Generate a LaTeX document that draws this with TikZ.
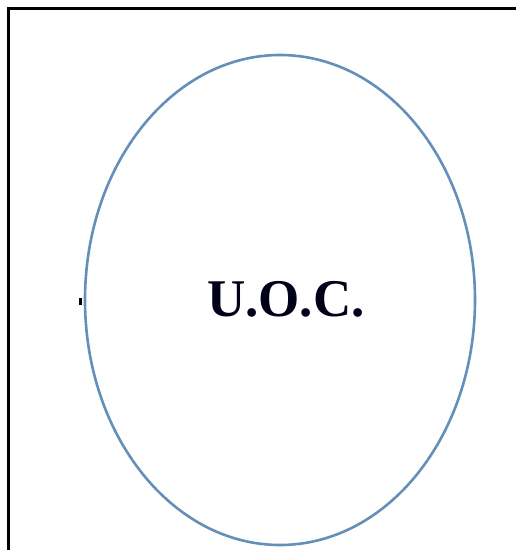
\documentclass[tikz,border=0pt]{standalone}
\usepackage{fontspec}
\setmainfont{Liberation Serif}
\definecolor{ellblue}{RGB}{100,143,185}
\begin{document}
\begin{tikzpicture}[x=1pt,y=1pt,
  frameline/.style={line width=3pt,black},
  oval/.style={draw=ellblue,line width=2.6pt,ellipse,fill=white},
  lbl/.style={font=\fontsize{53}{60}\selectfont\bfseries,text=black!90!blue}]
\useasboundingbox (0,0) rectangle (516,550);
\fill[white] (0,0) rectangle (516,550);
\coordinate (tl) at (8.5,541);
\coordinate (tr) at (516,541);
\coordinate (bl) at (8.5,0);
\draw[frameline] (bl) -- (tl) -- (tr);
\draw[ellblue,line width=2.6pt] (280,250) ellipse [x radius=195,y radius=245];
\node[lbl] (uoc) at (286,251) {U.O.C.};
\fill[black] (79,245) rectangle (81.5,252);
\end{tikzpicture}
\end{document}
